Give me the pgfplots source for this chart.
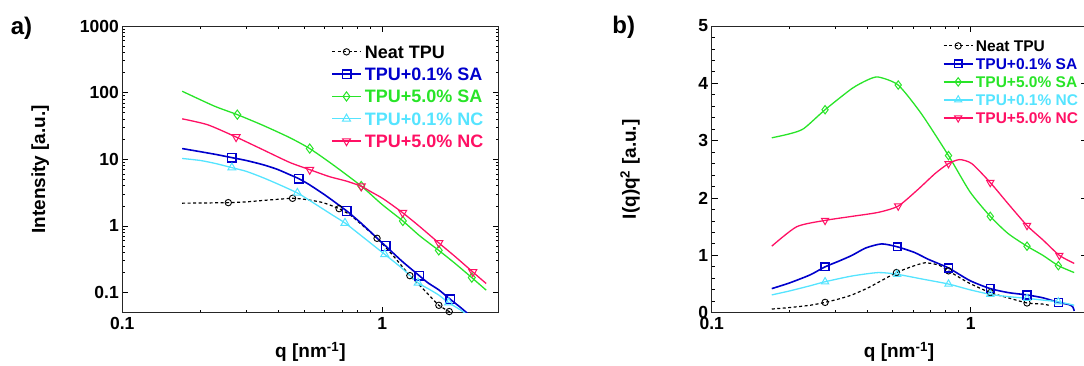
\documentclass[border=0pt]{standalone}
\usepackage{fontspec}
\setmainfont{Liberation Sans}
\usepackage{pgfplots}
\pgfplotsset{compat=1.18}

\definecolor{cblue}{RGB}{0,0,204}
\definecolor{cgreen}{RGB}{40,228,40}
\definecolor{ccyan}{RGB}{85,228,255}
\definecolor{cred}{RGB}{255,16,100}

\tikzset{
  sneat/.style={black, smooth, tension=0.4, line width=1.2pt, dash pattern=on 3pt off 2.5pt, mark=o, mark size=3.2pt, mark options={solid, line width=0.9pt}},
  sblue/.style={cblue, smooth, tension=0.4, line width=1.6pt, mark=square, mark size=4.3pt, mark options={solid, line width=1.4pt}},
  sgreen/.style={cgreen, smooth, tension=0.4, line width=1.3pt, mark=diamond, mark size=4.6pt, mark options={solid, line width=1pt}},
  scyan/.style={ccyan, smooth, tension=0.4, line width=1.3pt, mark=triangle, mark size=4.6pt, mark options={solid, line width=1pt}},
  sred/.style={cred, smooth, tension=0.4, line width=1.3pt, mark=triangle, mark size=4.6pt, mark options={solid, line width=1pt, rotate=180}},
}
\pgfplotsset{
  legend image code/.code={\draw[#1, mark indices={2}] plot coordinates {(0pt,0pt) (14.5pt,0pt) (29pt,0pt)};},
}

\begin{document}
\begin{tikzpicture}
% ---------------- panel a ----------------
\begin{axis}[
  scale only axis, anchor=south west,
  at={(122.3pt,52.3pt)}, width=376.2pt, height=286.7pt,
  xmode=log, xmin=0.1, xmax=2.8,
  xtick={0.1,1}, xticklabels={0.1,1},
  ymode=log, ymin=0.05, ymax=1000,
  ytick={0.1,1,10,100,1000}, yticklabels={0.1,1,10,100,1000},
  tick align=inside,
  major tick length=6pt, minor tick length=3pt,
  every tick/.style={black, line width=0.8pt},
  axis line style={line width=1pt, black!85},
  tick label style={font=\fontsize{17.5}{17.5}\selectfont\bfseries},
  xticklabel style={yshift=-1pt},
  label style={font=\fontsize{19}{19}\selectfont\bfseries},
  xlabel={q [nm\textsuperscript{-1}]},
  xlabel style={at={(axis description cs:0.5,-0.137)}, anchor=center},
  ylabel={Intensity [a.u.]},
  ylabel style={at={(axis description cs:-0.218,0.5)}, anchor=center},
  legend cell align=left,
  legend style={draw=none, fill=none, at={(0.5548,0.9494)}, anchor=north west,
    inner sep=0pt, row sep=0pt, column sep=3pt,
    font=\fontsize{18}{18}\selectfont\bfseries,
    nodes={inner sep=0pt, text height=17.6pt, text depth=4.7pt}},
]
\addplot[sneat, mark indices={3,7,10,13,15,18,19}] coordinates {
(0.170,2.20) (0.200,2.21) (0.2557,2.24) (0.300,2.30) (0.350,2.42) (0.400,2.52)
(0.4517,2.60) (0.500,2.52) (0.589,2.25) (0.682,1.82) (0.753,1.46) (0.821,1.10)
(0.955,0.653) (1.100,0.36) (1.277,0.18) (1.395,0.128) (1.500,0.095) (1.651,0.0646)
(1.810,0.052) (1.950,0.043)};
\addlegendentry{\textcolor{black}{Neat TPU}}
\addplot[sblue, mark indices={4,9,12,16,18,21}] coordinates {
(0.170,14.5) (0.200,13.0) (0.230,11.8) (0.264,10.6) (0.300,9.6) (0.348,8.3)
(0.394,7.1) (0.440,5.9) (0.477,5.13) (0.520,4.25) (0.607,2.85) (0.730,1.68)
(0.821,1.14) (0.900,0.82) (0.993,0.57) (1.031,0.50) (1.190,0.297) (1.387,0.180)
(1.500,0.140) (1.650,0.110) (1.827,0.0794) (2.000,0.060) (2.180,0.045)};
\addlegendentry{\textcolor{cblue}{TPU+0.1\% SA}}
\addplot[sgreen, mark indices={3,6,8,10,12,14}] coordinates {
(0.170,105) (0.2265,62.6) (0.277,46.8) (0.348,32.3) (0.440,21.2) (0.526,14.5)
(0.645,8.34) (0.830,3.98) (0.993,2.14) (1.200,1.19) (1.395,0.709) (1.650,0.43)
(1.900,0.277) (2.210,0.168) (2.510,0.109)};
\addlegendentry{\textcolor{cgreen}{TPU+5.0\% SA}}
\addplot[scyan, mark indices={4,8,11,14,16,19}] coordinates {
(0.170,10.3) (0.200,9.6) (0.230,8.6) (0.264,7.5) (0.300,6.6) (0.348,5.3)
(0.400,4.2) (0.4714,3.13) (0.520,2.48) (0.645,1.45) (0.719,1.11) (0.821,0.74)
(0.920,0.52) (1.022,0.376) (1.190,0.233) (1.374,0.140) (1.500,0.115) (1.650,0.092)
(1.800,0.0708) (2.000,0.055) (2.200,0.042)};
\addlegendentry{\textcolor{ccyan}{TPU+0.1\% NC}}
\addplot[sred, mark indices={3,6,9,12,14,16}] coordinates {
(0.170,40.5) (0.213,33) (0.274,21.6) (0.348,13.9) (0.440,9.0) (0.526,7.0)
(0.626,5.5) (0.730,4.7) (0.830,3.94) (0.906,3.25) (1.010,2.55) (1.198,1.58)
(1.395,0.976) (1.651,0.556) (1.900,0.352) (2.230,0.204) (2.510,0.137)};
\addlegendentry{\textcolor{cred}{TPU+5.0\% NC}}
\end{axis}

% ---------------- panel b ----------------
\begin{axis}[
  scale only axis, anchor=south west,
  at={(711.7pt,52.3pt)}, width=374.8pt, height=286.7pt,
  xmode=log, xmin=0.1, xmax=2.8,
  xtick={0.1,1}, xticklabels={0.1,1},
  ymin=0, ymax=5,
  ytick={0,1,2,3,4,5}, yticklabels={0,1,2,3,4,5},
  minor y tick num=4,
  tick align=inside,
  major tick length=6pt, minor tick length=3pt,
  every tick/.style={black, line width=0.8pt},
  axis line style={line width=1pt, black!85},
  tick label style={font=\fontsize{17.5}{17.5}\selectfont\bfseries},
  xticklabel style={yshift=-1pt},
  label style={font=\fontsize{19}{19}\selectfont\bfseries},
  xlabel={q [nm\textsuperscript{-1}]},
  xlabel style={at={(axis description cs:0.5,-0.137)}, anchor=center},
  ylabel={I(q)q\textsuperscript{2} [a.u.]},
  ylabel style={at={(axis description cs:-0.218,0.5)}, anchor=center},
  legend cell align=left,
  legend style={draw=none, fill=none, at={(0.6163,0.9627)}, anchor=north west,
    inner sep=0pt, row sep=0pt, column sep=2.5pt,
    font=\fontsize{15.5}{15.5}\selectfont\bfseries,
    nodes={inner sep=0pt, text height=14.55pt, text depth=3.45pt}},
]
\addplot[sneat, mark indices={4,9,13,16,18}] coordinates {
(0.1706,0.064) (0.200,0.09) (0.240,0.13) (0.274,0.18) (0.310,0.24) (0.348,0.31)
(0.400,0.43) (0.440,0.53) (0.517,0.70) (0.589,0.80) (0.666,0.87) (0.753,0.83)
(0.821,0.73) (0.900,0.62) (0.993,0.51) (1.190,0.35) (1.395,0.26) (1.650,0.17)
(1.900,0.15) (2.000,0.13)};
\addlegendentry{\textcolor{black}{Neat TPU}}
\addplot[sblue, mark size=3.9pt, mark indices={4,9,12,14,16,18}] coordinates {
(0.1706,0.42) (0.200,0.52) (0.240,0.66) (0.274,0.80) (0.310,0.90) (0.348,1.00)
(0.394,1.13) (0.453,1.20) (0.520,1.15) (0.607,1.05) (0.687,0.93) (0.821,0.78)
(0.993,0.56) (1.190,0.42) (1.400,0.35) (1.650,0.31) (1.900,0.26) (2.180,0.18)
(2.400,0.14) (2.480,0.10) (2.510,0.03)};
\addlegendentry{\textcolor{cblue}{TPU+0.1\% SA}}
\addplot[sgreen, mark size=4.2pt, mark indices={4,8,10,12,14,16}] coordinates {
(0.1706,3.05) (0.200,3.12) (0.2265,3.21) (0.274,3.54) (0.348,3.91) (0.400,4.06)
(0.440,4.11) (0.525,3.97) (0.645,3.47) (0.821,2.74) (0.993,2.11) (1.190,1.68)
(1.395,1.38) (1.650,1.16) (1.900,1.00) (2.180,0.82) (2.510,0.70)};
\addlegendentry{\textcolor{cgreen}{TPU+5.0\% SA}}
\addplot[scyan, mark size=4.2pt, mark indices={4,7,9,11,13,15}] coordinates {
(0.1706,0.31) (0.200,0.38) (0.240,0.47) (0.274,0.54) (0.348,0.64) (0.440,0.70)
(0.520,0.67) (0.645,0.59) (0.821,0.50) (0.993,0.40) (1.190,0.32) (1.400,0.28)
(1.650,0.25) (1.900,0.22) (2.180,0.19) (2.510,0.13)};
\addlegendentry{\textcolor{ccyan}{TPU+0.1\% NC}}
\addplot[sred, mark size=4.2pt, mark indices={3,6,9,12,14,16}] coordinates {
(0.1706,1.16) (0.213,1.50) (0.274,1.61) (0.348,1.68) (0.440,1.75) (0.525,1.86)
(0.626,2.15) (0.730,2.43) (0.821,2.60) (0.906,2.67) (1.010,2.60) (1.190,2.27)
(1.395,1.90) (1.650,1.52) (1.900,1.27) (2.200,1.00) (2.510,0.86)};
\addlegendentry{\textcolor{cred}{TPU+5.0\% NC}}
\end{axis}

\node[font=\fontsize{24}{24}\selectfont\bfseries] at (21.5pt,337pt) {a)};
\node[font=\fontsize{24}{24}\selectfont\bfseries] at (623.7pt,338pt) {b)};

\pgfresetboundingbox
\path (0,0) rectangle (1084pt,365pt);
\end{tikzpicture}
\end{document}
